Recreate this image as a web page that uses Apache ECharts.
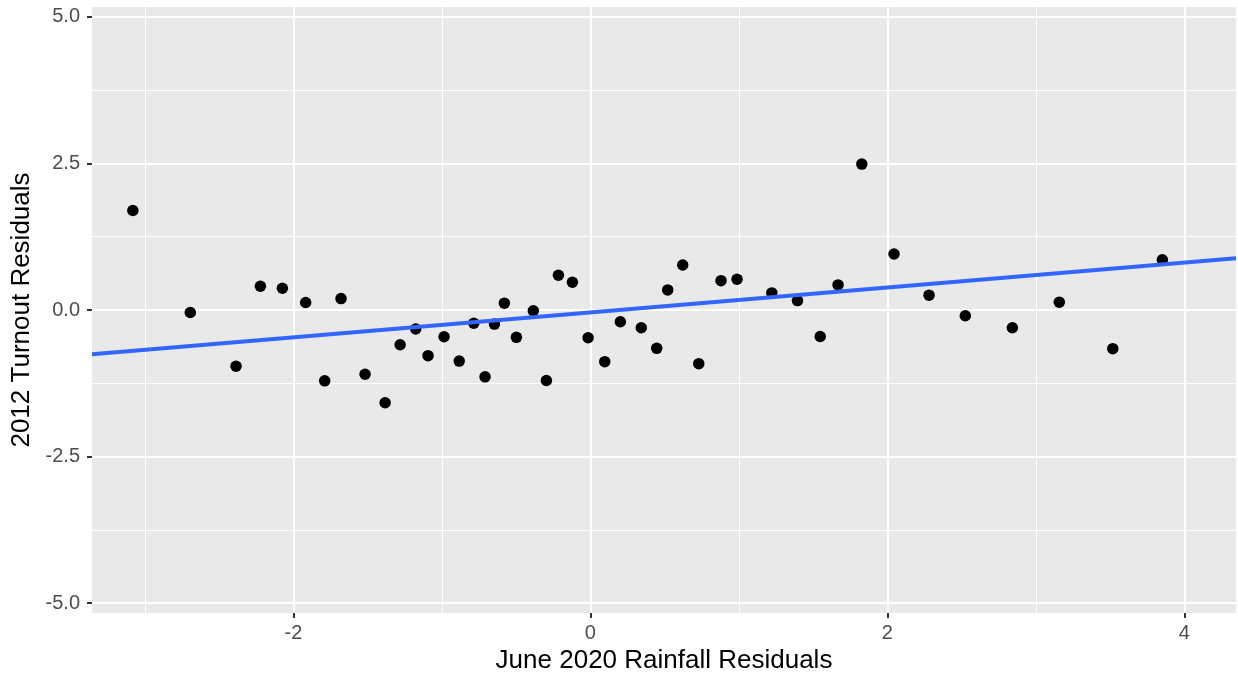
<!DOCTYPE html>
<html>
<head>
<meta charset="utf-8">
<title>Turnout vs Rainfall Residuals</title>
<script src="https://cdn.jsdelivr.net/npm/echarts@6/dist/echarts.min.js"></script>
<style>
  html, body { margin: 0; padding: 0; background: #ffffff; }
  #chart { width: 1238px; height: 679px; }
</style>
</head>
<body>
<div id="chart"></div>
<script>
// Residuals of June 2020 rainfall (x) and 2012 turnout (y), one entry per unit
const rainfallResid = [
  -3.081, -2.694, -2.386, -2.222, -2.074, -1.917, -1.679, -1.789, -1.517, -1.382,
  -1.281, -1.176, -1.093, -0.985, -0.883, -0.785, -0.709, -0.646, -0.579, -0.498,
  -0.384, -0.296, -0.215, -0.121, -0.015, 0.097, 0.202, 0.343, 0.447, 0.521,
  0.622, 0.730, 0.880, 0.988, 1.222, 1.395, 1.548, 1.668, 1.828, 2.045,
  2.281, 2.525, 2.842, 3.158, 3.518, 3.852
];
const turnoutResid = [
  1.698, -0.042, -0.960, 0.406, 0.372, 0.127, 0.195, -1.209, -1.096, -1.583,
  -0.592, -0.325, -0.779, -0.456, -0.872, -0.226, -1.141, -0.240, 0.117, -0.467,
  -0.014, -1.203, 0.593, 0.474, -0.473, -0.881, -0.201, -0.303, -0.654, 0.343,
  0.768, -0.915, 0.501, 0.525, 0.292, 0.161, -0.452, 0.428, 2.490, 0.955,
  0.253, -0.099, -0.303, 0.134, -0.660, 0.858
];

// Fitted trend line (slope and intercept of the smoother)
const trendSlope = 0.2126;
const trendIntercept = -0.0425;

// Axis ranges and tick positions
const xRange = [-3.356, 4.348];
const yRange = [-5.17, 5.17];
const xTicks = [-2, 0, 2, 4];
const xMinor = [-3, -1, 1, 3];
const yTicks = [-5, -2.5, 0, 2.5, 5];
const yMinor = [-3.75, -1.25, 1.25, 3.75];

// The trend spans the full width of the panel
const fitLine = xRange.map(x => [x, trendIntercept + trendSlope * x]);
const points = rainfallResid.map((x, i) => [x, turnoutResid[i]]);

const FONT = '"Liberation Sans", Arial, Helvetica, sans-serif';

function gridSeries(xs, ys, width) {
  return {
    type: 'line',
    data: [],
    z: 1,
    silent: true,
    markLine: {
      z: 1,
      silent: true,
      symbol: ['none', 'none'],
      label: { show: false },
      emphasis: { disabled: true },
      animation: false,
      lineStyle: { color: '#ffffff', width: width, type: 'solid', opacity: 1 },
      data: xs.map(v => ({ xAxis: v })).concat(ys.map(v => ({ yAxis: v })))
    }
  };
}

const hiddenAxisLine = { show: true, onZero: false, lineStyle: { color: 'rgba(0,0,0,0)', width: 0 } };

const chart = echarts.init(document.getElementById('chart'), null, { renderer: 'canvas' });
chart.setOption({
  animation: false,
  backgroundColor: '#ffffff',
  textStyle: { fontFamily: FONT },
  grid: {
    left: 92, right: 2, top: 7, bottom: 63,
    show: true, backgroundColor: '#E9E9E9', borderWidth: 0
  },
  xAxis: {
    type: 'value',
    min: xRange[0], max: xRange[1],
    axisLine: hiddenAxisLine,
    splitLine: { show: false },
    axisTick: {
      show: true, customValues: xTicks, length: 5, inside: false,
      lineStyle: { color: '#333333', width: 2 }
    },
    axisLabel: {
      customValues: xTicks, color: '#4D4D4D', fontSize: 20, margin: 10,
      fontFamily: FONT
    },
    name: 'June 2020 Rainfall Residuals',
    nameLocation: 'middle',
    nameGap: 35,
    nameTextStyle: { color: '#000000', fontSize: 26, fontFamily: FONT }
  },
  yAxis: {
    type: 'value',
    min: yRange[0], max: yRange[1],
    axisLine: hiddenAxisLine,
    splitLine: { show: false },
    axisTick: {
      show: true, customValues: yTicks, length: 5, inside: false,
      lineStyle: { color: '#333333', width: 2 }
    },
    axisLabel: {
      customValues: yTicks, color: '#4D4D4D', fontSize: 20, margin: 12,
      fontFamily: FONT,
      formatter: v => Number(v).toFixed(1)
    },
    name: '2012 Turnout Residuals',
    nameLocation: 'middle',
    nameGap: 55,
    nameTextStyle: { color: '#000000', fontSize: 26, fontFamily: FONT }
  },
  series: [
    gridSeries(xMinor, yMinor, 1),
    gridSeries(xTicks, yTicks, 2),
    {
      type: 'scatter',
      data: points,
      symbol: 'circle',
      symbolSize: 11.5,
      itemStyle: { color: '#000000', opacity: 1 },
      z: 2,
      silent: true
    },
    {
      type: 'line',
      data: fitLine,
      symbol: 'none',
      lineStyle: { color: '#3366FF', width: 4 },
      z: 3,
      silent: true
    }
  ]
});
</script>
</body>
</html>
